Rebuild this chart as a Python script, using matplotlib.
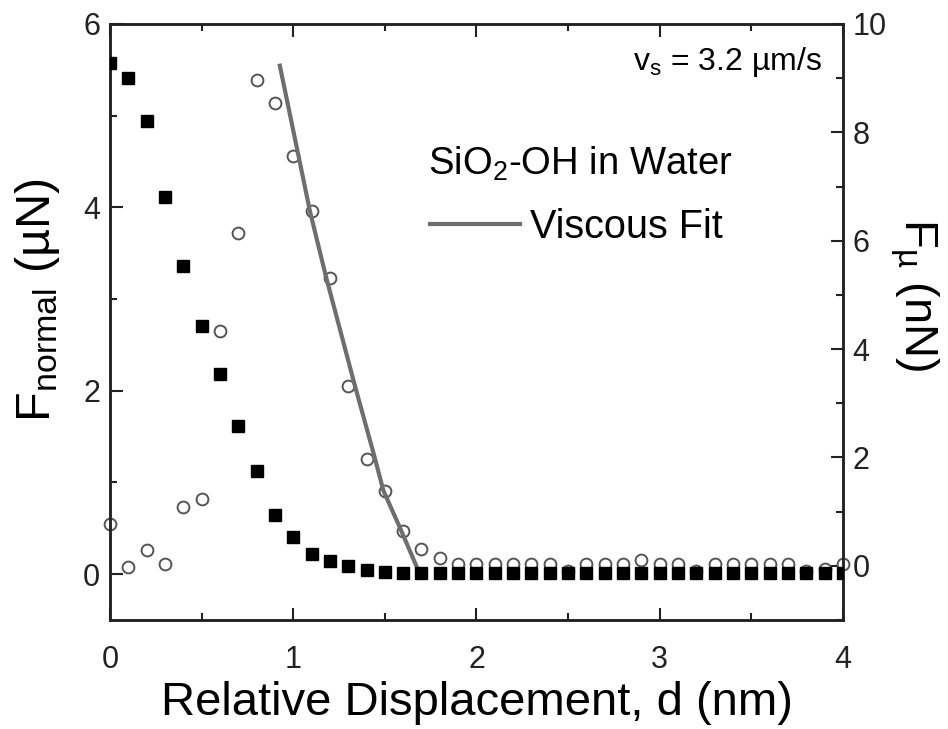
import matplotlib
matplotlib.use('Agg')
import matplotlib.pyplot as plt
import numpy as np
from matplotlib.ticker import MultipleLocator

plt.rcParams['font.family'] = ['Liberation Sans', 'DejaVu Sans']
plt.rcParams['mathtext.fontset'] = 'custom'
plt.rcParams['mathtext.rm'] = 'Liberation Sans'
plt.rcParams['mathtext.it'] = 'Liberation Sans:italic'

# relative displacement (nm)
d = [0.0, 0.1, 0.2, 0.3, 0.4, 0.5, 0.6, 0.7, 0.8, 0.9,
     1.0, 1.1, 1.2, 1.3, 1.4, 1.5, 1.6, 1.7, 1.8, 1.9,
     2.0, 2.1, 2.2, 2.3, 2.4, 2.5, 2.6, 2.7, 2.8, 2.9,
     3.0, 3.1, 3.2, 3.3, 3.4, 3.5, 3.6, 3.7, 3.8, 3.9, 4.0]

# normal force (uN), left axis
f_normal = [5.57, 5.41, 4.94, 4.11, 3.36, 2.71, 2.18, 1.62, 1.13, 0.65,
            0.40, 0.22, 0.145, 0.09, 0.04, 0.02, 0.01, 0.01, 0.01, 0.01,
            0.01, 0.01, 0.01, 0.01, 0.01, 0.01, 0.01, 0.01, 0.01, 0.01,
            0.01, 0.01, 0.01, 0.01, 0.01, 0.01, 0.01, 0.01, 0.01, 0.01, 0.01]

# friction force (nN), right axis
f_mu = [0.78, -0.02, 0.30, 0.04, 1.09, 1.24, 4.34, 6.15, 8.96, 8.54,
        7.56, 6.54, 5.32, 3.31, 1.98, 1.39, 0.65, 0.31, 0.14, 0.04,
        0.04, 0.04, 0.04, 0.04, 0.04, -0.09, 0.04, 0.04, 0.04, 0.10,
        0.04, 0.04, -0.09, 0.04, 0.04, 0.04, 0.04, 0.04, -0.09, -0.05, 0.04]

# viscous fit curve (right axis)
fit_d = [0.927, 1.091, 1.177, 1.333, 1.443, 1.492, 1.588, 1.692]
fit_f = [9.23, 6.55, 5.36, 3.37, 2.02, 1.39, 0.66, -0.16]

fig = plt.figure(figsize=(9.48, 7.29), dpi=100)
ax = fig.add_axes([0.116, 0.1495, 0.7732, 0.8176])
ax2 = ax.twinx()

ax2.plot(d, f_mu, linestyle='none', marker='o', markersize=8.5,
         markerfacecolor='white', markeredgecolor='#555555', markeredgewidth=1.4,
         clip_on=False, zorder=2)
ax2.plot(fit_d, fit_f, color='#6e6e6e', linewidth=3, zorder=3)

ax.plot(d, f_normal, linestyle='none', marker='s', markersize=8.5,
        color='black', zorder=3)

ax.set_zorder(ax2.get_zorder() + 1)
ax.patch.set_visible(False)

ax.set_xlim(0, 4)
ax.set_ylim(-0.5, 6)
ax2.set_ylim(-1, 10)

ax.xaxis.set_major_locator(MultipleLocator(1))
ax.xaxis.set_minor_locator(MultipleLocator(0.5))
ax.yaxis.set_major_locator(MultipleLocator(2))
ax.yaxis.set_minor_locator(MultipleLocator(1))
ax2.yaxis.set_major_locator(MultipleLocator(2))
ax2.yaxis.set_minor_locator(MultipleLocator(1))

for a in (ax, ax2):
    for s in a.spines.values():
        s.set_linewidth(1.8)
        s.set_color('#222222')

ax.tick_params(axis='both', which='both', direction='in', top=True,
               labelsize=22, width=1.5, colors='#222222')
ax.tick_params(which='major', length=9)
ax.tick_params(which='minor', length=5)
ax.tick_params(axis='x', pad=18)
ax.tick_params(axis='y', pad=7)
ax2.tick_params(axis='y', which='both', direction='in', labelsize=22,
                width=1.5, pad=7, colors='#222222')
ax2.tick_params(which='major', length=9)
ax2.tick_params(which='minor', length=5)

ax.set_xlabel('Relative Displacement, d (nm)', fontsize=34, labelpad=4)
ax.set_ylabel('F$_\\mathrm{normal}$ (µN)', fontsize=35)
ax.yaxis.set_label_coords(-0.066, 0.537)
ax2.set_ylabel('F$_\\mathrm{µ}$ (nN)', fontsize=34, rotation=270, va='bottom')
ax2.yaxis.set_label_coords(1.062, 0.545)

ax.text(0.971, 0.936, 'v$_\\mathrm{s}$ = 3.2 µm/s', transform=ax.transAxes,
        ha='right', va='center', fontsize=23)

# legend block drawn by hand: title text, line sample, label
ax.text(0.434, 0.7466, 'SiO$_2$-OH in Water', transform=ax.transAxes,
        ha='left', va='baseline', fontsize=27.5)
ax.plot([0.4365, 0.559], [0.664, 0.664], transform=ax.transAxes,
        color='#6e6e6e', linewidth=3)
ax.text(0.573, 0.641, 'Viscous Fit', transform=ax.transAxes,
        ha='left', va='baseline', fontsize=28.5)

fig.savefig('out.png', dpi=100)
